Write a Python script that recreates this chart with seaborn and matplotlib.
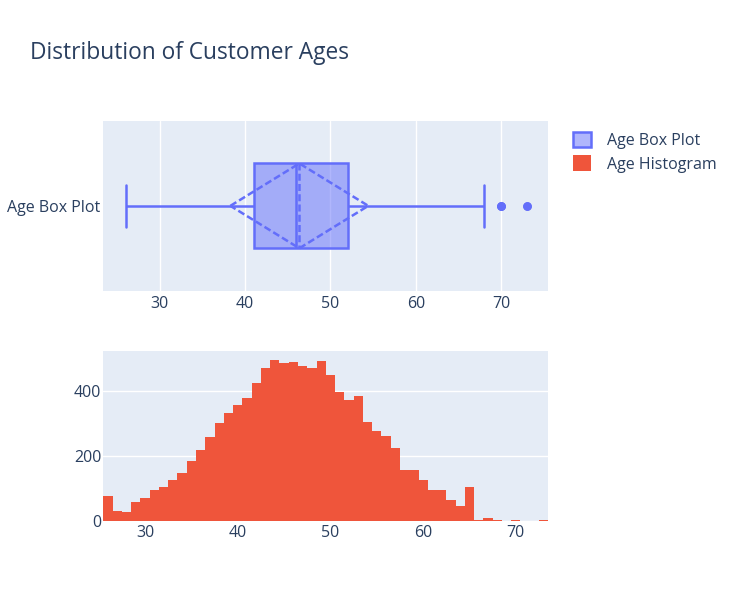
import numpy as np
import matplotlib
matplotlib.use("Agg")
import matplotlib.pyplot as plt
from matplotlib.patches import Patch
import seaborn as sns

# integer ages and how many customers have each age
age_values = list(range(26, 74))
age_counts = [
    78, 32, 29, 57, 72, 94, 106, 127, 149, 186,
    219, 259, 302, 333, 357, 379, 424, 470, 495, 486,
    489, 478, 470, 492, 449, 397, 372, 385, 305, 278,
    262, 225, 158, 158, 127, 94, 94, 66, 45, 104,
    3, 9, 3, 0, 3, 0, 0, 2,
]
box_label = "Age Box Plot"
hist_label = "Age Histogram"
hist_yticks = [0, 200, 400]
age_ticks = [30, 40, 50, 60, 70]

BLUE = "#636efa"
BLUE_FILL = (0.388, 0.431, 0.980, 0.5)
RED = "#EF553B"
TEXT = "#2a3f5f"
BG = "#E5ECF6"
LW = 1.8

ages = np.repeat(age_values, age_counts)

sns.set_theme(style="darkgrid", rc={"axes.facecolor": BG, "grid.color": "white",
                                    "grid.linewidth": 1.0})
plt.rcParams["font.family"] = ["Open Sans", "DejaVu Sans"]

W, H = 738, 611
fig = plt.figure(figsize=(W / 100, H / 100), dpi=100)
fig.patch.set_facecolor("white")


def px_axes(left, top, right, bottom):
    return fig.add_axes([left / W, 1 - bottom / H, (right - left) / W, (bottom - top) / H])


ax_box = px_axes(103.3, 121, 548.3, 290.7)
ax_hist = px_axes(103.3, 350.7, 548.3, 521)

# box plot
sns.boxplot(
    x=ages, ax=ax_box, orient="h", width=0.5, whis=1.5, saturation=1,
    color=BLUE, linecolor=BLUE, linewidth=LW, fliersize=5.2,
    boxprops=dict(facecolor=BLUE_FILL, edgecolor=BLUE),
    flierprops=dict(marker="o", markerfacecolor=BLUE, markeredgecolor=BLUE),
)
mean = ages.mean()
sd = ages.std()
dash = dict(color=BLUE, lw=LW, ls=(0, (2.8, 1.3)))
ax_box.plot([mean, mean], [-0.25, 0.25], **dash)
ax_box.plot([mean - sd, mean, mean + sd, mean, mean - sd],
            [0, -0.25, 0, 0.25, 0], **dash)
ax_box.set_xlim(23.4, 75.5)
ax_box.set_ylim(0.5, -0.5)
ax_box.set_xticks(age_ticks)
ax_box.set_yticks([0], [box_label])
ax_box.grid(axis="x", color="white", lw=1)
ax_box.grid(axis="y", visible=False)

# histogram
sns.histplot(x=ages, discrete=True, ax=ax_hist, color=RED, alpha=1, linewidth=0)
ax_hist.set_xlim(25.5, 73.5)
ax_hist.set_ylim(0, 524)
ax_hist.set_xticks(age_ticks)
ax_hist.set_yticks(hist_yticks)
ax_hist.grid(axis="x", visible=False)
ax_hist.grid(axis="y", color="white", lw=1)
ax_hist.set_axisbelow(True)

for ax in (ax_box, ax_hist):
    ax.set_xlabel("")
    ax.set_ylabel("")
    for s in ax.spines.values():
        s.set_visible(False)
    ax.tick_params(length=0, labelsize=11.5, labelcolor=TEXT, pad=2)
ax_box.tick_params(axis="x", pad=4)
ax_hist.tick_params(axis="x", pad=3)
ax_hist.tick_params(axis="y", pad=1.5)

fig.text(30 / W, 1 - 59 / H, "Distribution of Customer Ages", fontsize=16.4,
         color=TEXT, ha="left", va="baseline")

handles = [
    Patch(facecolor=BLUE_FILL, edgecolor=BLUE, linewidth=LW, label=box_label),
    Patch(facecolor=RED, edgecolor=RED, linewidth=0, label=hist_label),
]
leg = fig.legend(handles=handles, loc="upper left", bbox_to_anchor=(573 / W, 1 - 132 / H),
                 frameon=False, borderpad=0, borderaxespad=0, handlelength=1.1,
                 handleheight=1.1, handletextpad=1.05, labelspacing=0.4, fontsize=11.5)
for t in leg.get_texts():
    t.set_color(TEXT)

fig.savefig("out.png", dpi=100)
